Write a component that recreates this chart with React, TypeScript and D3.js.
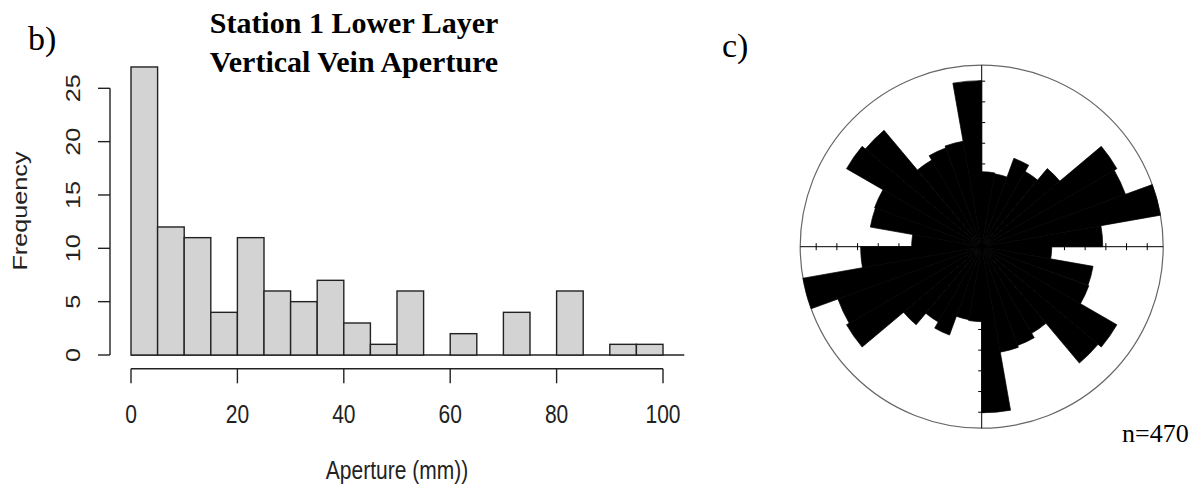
import React from 'react';
import * as d3 from 'd3';

// Histogram: vein aperture (mm), 5 mm bins
const binEdges = [0, 5, 10, 15, 20, 25, 30, 35, 40, 45, 50, 55, 60, 65, 70, 75, 80, 85, 90, 95, 100];
const binCounts = [27, 12, 11, 4, 11, 6, 5, 7, 3, 1, 6, 0, 2, 0, 4, 0, 6, 0, 1, 1];
const xTickValues = [0, 20, 40, 60, 80, 100];
const yTickValues = [0, 5, 10, 15, 20, 25];

// Rose diagram: 10° sectors from 0° to 180°, mirrored (axial data),
// lengths as a fraction of the outer ring
const sectorStarts = [0, 10, 20, 30, 40, 50, 60, 70, 80, 90, 100, 110, 120, 130, 140, 150, 160, 170];
const sectorLengths = [0.413, 0.408, 0.518, 0.479, 0.562, 0.86, 0.843, 1.0, 0.667, 0.386, 0.623, 0.628, 0.86, 0.837, 0.551, 0.579, 0.59, 0.915];
const ringTicks = [1, 2, 3, 4, 5, 6, 7, 8];
const ringTickStep = 0.114;

const sans = "'Liberation Sans', Arial, sans-serif";
const serif = "'Liberation Serif', 'Times New Roman', serif";
const ink = '#222';

function Histogram() {
  const x = d3.scaleLinear().domain([0, 100]).range([131, 663]);
  const y = d3.scaleLinear().domain([0, 25]).range([355, 88.3]);
  const bins = binCounts.map((c, i) => ({ x0: binEdges[i], x1: binEdges[i + 1], count: c }));
  const axisX = 110;
  const axisY = 368.7;
  return (
    <g>
      <line x1={x(0)} x2={x(104)} y1={y(0)} y2={y(0)} stroke={ink} strokeWidth={1.4} />
      {bins.map((b, i) =>
        b.count > 0 ? (
          <rect
            key={i}
            x={x(b.x0)}
            y={y(b.count)}
            width={x(b.x1) - x(b.x0)}
            height={y(0) - y(b.count)}
            fill="#d3d3d3"
            stroke={ink}
            strokeWidth={1.4}
          />
        ) : null
      )}
      {/* y axis */}
      <line x1={axisX} x2={axisX} y1={y(0)} y2={y(25)} stroke={ink} strokeWidth={1.4} />
      {yTickValues.map((t) => (
        <g key={t}>
          <line x1={axisX} x2={axisX - 12} y1={y(t)} y2={y(t)} stroke={ink} strokeWidth={1.4} />
          <text
            transform={`translate(80,${y(t)}) rotate(-90) scale(1.2,1)`}
            textAnchor="middle"
            fontFamily={sans}
            fontSize={21}
            fill={ink}
          >
            {t}
          </text>
        </g>
      ))}
      <text
        transform="translate(27,211) rotate(-90) scale(1.2,1)"
        textAnchor="middle"
        fontFamily={sans}
        fontSize={21}
        fill={ink}
      >
        Frequency
      </text>
      {/* x axis */}
      <line x1={x(0)} x2={x(100)} y1={axisY} y2={axisY} stroke={ink} strokeWidth={1.4} />
      {xTickValues.map((t) => (
        <g key={t}>
          <line x1={x(t)} x2={x(t)} y1={axisY} y2={axisY + 14.6} stroke={ink} strokeWidth={1.4} />
          <text
            transform={`translate(${x(t)},423) scale(1,1.2)`}
            textAnchor="middle"
            fontFamily={sans}
            fontSize={21}
            fill={ink}
          >
            {t}
          </text>
        </g>
      ))}
      <text
        transform={`translate(${(x(0) + x(100)) / 2},479) scale(1,1.2)`}
        textAnchor="middle"
        fontFamily={sans}
        fontSize={21}
        fill={ink}
      >
        Aperture (mm))
      </text>
      <text x={354} y={33} textAnchor="middle" fontFamily={serif} fontWeight="bold" fontSize={30} fill="#000">
        Station 1 Lower Layer
      </text>
      <text x={354} y={72} textAnchor="middle" fontFamily={serif} fontWeight="bold" fontSize={30} fill="#000">
        Vertical Vein Aperture
      </text>
      <text x={28} y={50} fontFamily={serif} fontSize={34} fill="#000">
        b)
      </text>
    </g>
  );
}

function Rose() {
  const cx = 981.7;
  const cy = 246.7;
  const R = 181.5;
  const r = d3.scaleLinear().domain([0, 1]).range([0, R]);
  const arc = d3.arc<any>();
  const rad = (deg: number) => (deg * Math.PI) / 180;
  const petals: { a0: number; a1: number; len: number }[] = [];
  sectorStarts.forEach((s, i) => {
    petals.push({ a0: s, a1: s + 10, len: sectorLengths[i] });
    petals.push({ a0: s + 180, a1: s + 190, len: sectorLengths[i] });
  });
  const tickOffsets = ringTicks.map((k) => r(k * ringTickStep));
  return (
    <g transform={`translate(${cx},${cy})`}>
      <circle r={R} fill="none" stroke="#666" strokeWidth={1.2} />
      <line x1={-R} x2={R} y1={0} y2={0} stroke="#000" strokeWidth={1} />
      <line x1={0} x2={0} y1={-R} y2={R} stroke="#000" strokeWidth={1} />
      {tickOffsets.map((d, i) => (
        <g key={i}>
          <line x1={d} x2={d} y1={-3.5} y2={3.5} stroke="#000" strokeWidth={1} />
          <line x1={-d} x2={-d} y1={-3.5} y2={3.5} stroke="#000" strokeWidth={1} />
          <line x1={-3.5} x2={3.5} y1={d} y2={d} stroke="#000" strokeWidth={1} />
          <line x1={-3.5} x2={3.5} y1={-d} y2={-d} stroke="#000" strokeWidth={1} />
        </g>
      ))}
      {/* hairline stroke closes the antialiasing seams between wedges */}
      {petals.map((p, i) => (
        <path
          key={i}
          d={arc({ innerRadius: 0, outerRadius: r(p.len), startAngle: rad(p.a0), endAngle: rad(p.a1) }) as string}
          fill="#000"
          stroke="#000"
          strokeWidth={0.7}
          strokeLinejoin="miter"
        />
      ))}
    </g>
  );
}

export default function App() {
  return (
    <div style={{ position: 'absolute', left: 0, top: 0 }}>
      <svg width={1204} height={494} style={{ display: 'block', background: '#fff' }}>
        <Histogram />
        <Rose />
        <text x={722} y={57} fontFamily={serif} fontSize={34} fill="#000">
          c)
        </text>
        <text x={1122} y={442} fontFamily={serif} fontSize={26} fill="#000">
          n=470
        </text>
      </svg>
    </div>
  );
}
